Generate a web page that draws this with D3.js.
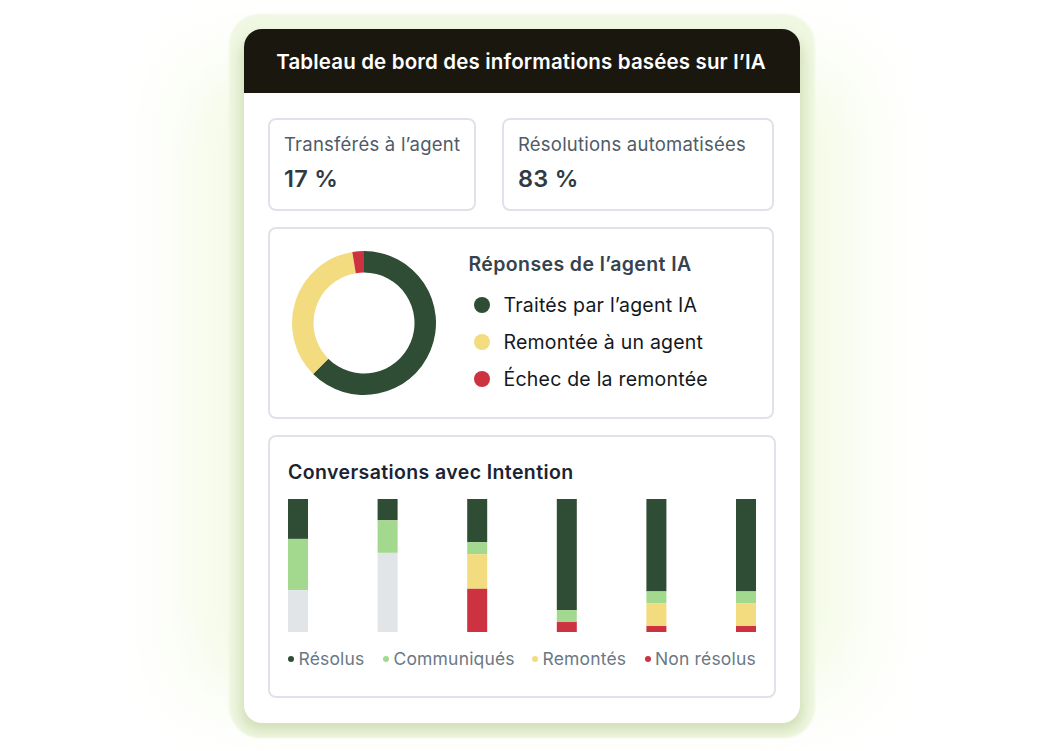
<!DOCTYPE html>
<html>
<head>
<meta charset="utf-8">
<script src="https://cdn.jsdelivr.net/npm/d3@7"></script>
<style>
html, body { margin: 0; padding: 0; background: #fff; overflow: hidden; }
svg { display: block; }
text { font-family: Inter, "Noto Sans", sans-serif; }
</style>
</head>
<body>
<svg id="chart"></svg>
<script>
// data
var donutLabels = ['Traités par l’agent IA', 'Remontée à un agent', 'Échec de la remontée'];
var donutValues = [62.5, 34.9, 2.6];
var donutColors = ['#2f4d34', '#f3db7f', '#cd3240'];

var barCategories = ['a', 'b', 'c', 'd', 'e', 'f'];
var barKeys = ['resolus', 'communiques', 'remontes', 'nonResolus', 'autres'];
var resolus = [30, 16, 32.5, 83.5, 69.5, 69.5];
var communiques = [38.5, 24.5, 9, 9, 9, 9];
var remontes = [0, 0, 26, 0, 17, 17];
var nonResolus = [0, 0, 32.5, 7.5, 4.5, 4.5];
var autres = [31.5, 59.5, 0, 0, 0, 0];
var barColors = ['#2f4d34', '#a2d98f', '#f3db7f', '#cd3240', '#e1e5e8'];

var legendLabels = ['Résolus', 'Communiqués', 'Remontés', 'Non résolus'];
var legendDotX = [291, 386, 535, 648];

var svgWidth = 1044;
var svgHeight = 751;

var svg = d3.select('#chart')
    .attr('width', svgWidth)
    .attr('height', svgHeight);

var defs = svg.append('defs');

defs.append('filter').attr('id', 'glow')
    .attr('x', '-50%').attr('y', '-50%').attr('width', '200%').attr('height', '200%')
    .append('feGaussianBlur').attr('stdDeviation', 40);

defs.append('filter').attr('id', 'soft')
    .attr('x', '-10%').attr('y', '-10%').attr('width', '120%').attr('height', '120%')
    .append('feGaussianBlur').attr('stdDeviation', 1);

defs.append('filter').attr('id', 'cardShadow')
    .attr('x', '-10%').attr('y', '-10%').attr('width', '120%').attr('height', '120%')
    .append('feGaussianBlur').attr('stdDeviation', 7);

defs.append('clipPath').attr('id', 'frameClip')
    .append('rect')
    .attr('x', 229).attr('y', 14).attr('width', 586).attr('height', 724)
    .attr('rx', 31);

// background glow and frame
svg.append('rect')
    .attr('x', 195).attr('y', 70).attr('width', 654).attr('height', 620)
    .attr('fill', '#f3fae2').attr('filter', 'url(#glow)');

svg.append('rect')
    .attr('x', 229).attr('y', 14).attr('width', 586).attr('height', 724)
    .attr('rx', 31)
    .attr('fill', '#f0f7e2').attr('filter', 'url(#soft)');

svg.append('g')
    .attr('clip-path', 'url(#frameClip)')
    .append('rect')
    .attr('x', 241).attr('y', 38).attr('width', 562).attr('height', 692)
    .attr('rx', 18)
    .attr('fill', '#cfddb4').attr('filter', 'url(#cardShadow)');

// main card
svg.append('rect')
    .attr('x', 244).attr('y', 29).attr('width', 556).attr('height', 694)
    .attr('rx', 18).attr('fill', '#fff');

svg.append('path')
    .attr('d', 'M244 93V47a18 18 0 0 1 18-18H782a18 18 0 0 1 18 18V93Z')
    .attr('fill', '#1a170f');

svg.append('text')
    .attr('x', 521).attr('y', 69)
    .attr('text-anchor', 'middle')
    .attr('font-size', 20.5).attr('font-weight', 600)
    .attr('letter-spacing', 0.15)
    .attr('fill', '#fff')
    .text('Tableau de bord des informations basées sur l’IA');

function panel(x, y, w, h) {
    svg.append('rect')
        .attr('x', x).attr('y', y).attr('width', w).attr('height', h)
        .attr('rx', 7)
        .attr('fill', '#fff')
        .attr('stroke', '#dfe3e9').attr('stroke-width', 2);
}

panel(269, 119, 206, 91);
panel(503, 119, 270, 91);
panel(269, 228, 504, 190);
panel(269, 436, 506, 261);

// stat cards
var stats = [
    { x: 284, label: 'Transférés à l’agent', value: '17 %' },
    { x: 518, label: 'Résolutions automatisées', value: '83 %' }
];

stats.forEach(function (s) {
    svg.append('text').attr('x', s.x).attr('y', 151)
        .attr('font-size', 18.5).attr('letter-spacing', 0.22).attr('fill', '#4f5b67')
        .text(s.label);
    svg.append('text').attr('x', s.x).attr('y', 187)
        .attr('font-size', 23.5).attr('font-weight', 600).attr('letter-spacing', 0.3).attr('fill', '#2f3a45')
        .text(s.value);
});

// donut
var pie = d3.pie().sort(null);
var arc = d3.arc().innerRadius(50.5).outerRadius(72);

svg.append('g')
    .attr('transform', 'translate(364,323)')
    .selectAll('path')
    .data(pie(donutValues))
    .enter()
    .append('path')
    .attr('d', arc)
    .attr('fill', function (d, i) { return donutColors[i]; });

svg.append('text').attr('x', 468.5).attr('y', 271)
    .attr('font-size', 19.5).attr('font-weight', 600).attr('letter-spacing', 0.39).attr('fill', '#37424d')
    .text('Réponses de l’agent IA');

var donutLegendY = d3.scalePoint().domain(donutLabels).range([305, 379]);

var donutLegend = svg.selectAll('.donut-legend')
    .data(donutLabels)
    .enter()
    .append('g')
    .attr('class', 'donut-legend')
    .attr('transform', function (d) { return `translate(482,${donutLegendY(d)})`; });

donutLegend.append('circle')
    .attr('r', 8)
    .attr('fill', function (d, i) { return donutColors[i]; });

donutLegend.append('text')
    .attr('x', 21.5).attr('y', 7.2)
    .attr('font-size', 19.5).attr('letter-spacing', 0.22).attr('fill', '#14181d')
    .text(function (d) { return d; });

// stacked bars
svg.append('text').attr('x', 288).attr('y', 479)
    .attr('font-size', 19.5).attr('font-weight', 600).attr('letter-spacing', 0.39).attr('fill', '#1b2333')
    .text('Conversations avec Intention');

var barRows = barCategories.map(function (c, i) {
    return {
        category: c,
        resolus: resolus[i],
        communiques: communiques[i],
        remontes: remontes[i],
        nonResolus: nonResolus[i],
        autres: autres[i]
    };
});

var stacked = d3.stack().keys(barKeys)(barRows);

var xScale = d3.scalePoint().domain(barCategories).range([288, 736]);
var yScale = d3.scaleLinear().domain([0, 100]).range([499, 632]);

svg.selectAll('.series')
    .data(stacked)
    .enter()
    .append('g')
    .attr('class', 'series')
    .attr('fill', function (d, i) { return barColors[i]; })
    .selectAll('rect')
    .data(function (d) { return d; })
    .enter()
    .append('rect')
    .attr('x', function (d) { return xScale(d.data.category); })
    .attr('y', function (d) { return yScale(d[0]); })
    .attr('width', 20)
    .attr('height', function (d) { return yScale(d[1]) - yScale(d[0]); });

// bar legend
var barLegend = svg.selectAll('.bar-legend')
    .data(legendLabels)
    .enter()
    .append('g')
    .attr('class', 'bar-legend')
    .attr('transform', function (d, i) { return `translate(${legendDotX[i]},659)`; });

barLegend.append('circle')
    .attr('r', 3)
    .attr('fill', function (d, i) { return barColors[i]; });

barLegend.append('text')
    .attr('x', function (d, i) { return i == 3 ? 7 : 7.5; }).attr('y', 6)
    .attr('font-size', 17.5).attr('letter-spacing', 0.17).attr('fill', '#6c7885')
    .text(function (d) { return d; });
</script>
</body>
</html>
